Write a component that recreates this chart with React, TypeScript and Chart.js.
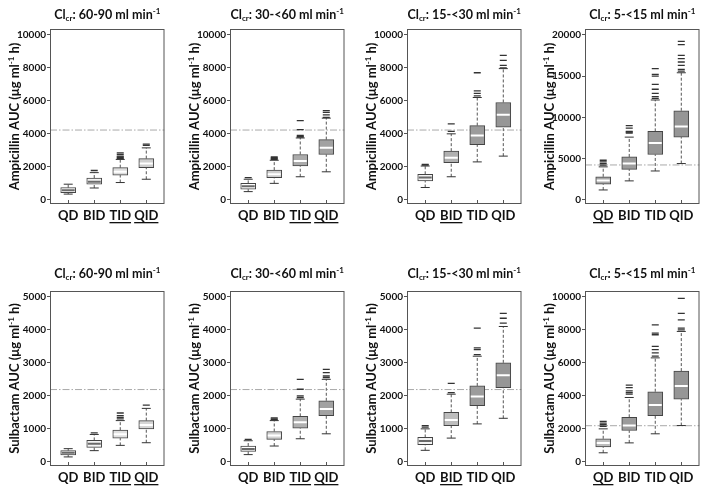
import React, { useEffect, useRef } from "react";
import Chart from "chart.js/auto";

// ---------------- data ----------------
const DOSES = ["QD", "BID", "TID", "QID"];
const CLCR_RANGES = ["60-90", "30-<60", "15-<30", "5-<15"];
const DRUGS = ["Ampicillin", "Sulbactam"];

// each row: [lower whisker, Q1, median, Q3, upper whisker] for QD, BID, TID, QID
const AMP_60_90 = [[350, 430, 590, 740, 950], [720, 950, 1100, 1320, 1650], [1050, 1500, 1700, 1950, 2450], [1250, 1950, 2200, 2500, 3150]];
const AMP_60_90_OUT = [[], [1780], [2500, 2550, 2600, 2650, 2750, 2850], [3300, 3380]];

const AMP_30_60 = [[500, 650, 820, 1000, 1250], [1000, 1350, 1550, 1800, 2400], [1400, 2050, 2350, 2750, 3750], [1700, 2750, 3150, 3650, 4950]];
const AMP_30_60_OUT = [[1350], [2450, 2500, 2550, 2600], [3800, 3850, 3900, 4250, 4800], [5000, 5150, 5300, 5400]];

const AMP_15_30 = [[750, 1150, 1350, 1550, 2050], [1400, 2250, 2550, 2950, 4000], [2300, 3350, 3900, 4500, 6200], [2650, 4400, 5150, 5900, 7950]];
const AMP_15_30_OUT = [[2100, 2150], [4150, 4600], [6300, 6450, 6600, 7700], [8000, 8150, 8450, 8750]];

const AMP_5_15 = [[1200, 1900, 2350, 2800, 4000], [2300, 3700, 4400, 5200, 7600], [3500, 5500, 6900, 8300, 12100], [4400, 7600, 8900, 10800, 15400]];
const AMP_5_15_OUT = [[4200, 4400, 4600, 4800], [8100, 8200, 8300, 8700, 9000], [12300, 12500, 12900, 13400, 14000, 15000, 15200, 15900], [15600, 15800, 16300, 16700, 17100, 17500, 18800, 19200]];

const SUL_60_90 = [[150, 210, 280, 340, 400], [340, 440, 550, 650, 830], [500, 720, 840, 960, 1250], [580, 1000, 1120, 1250, 1620]];
const SUL_60_90_OUT = [[], [880], [1300, 1350, 1400, 1480], [1720]];

const SUL_30_60 = [[220, 320, 390, 480, 640], [480, 680, 800, 920, 1250], [700, 1020, 1200, 1380, 1900], [850, 1400, 1600, 1850, 2500]];
const SUL_30_60_OUT = [[680], [1280, 1300, 1330], [1950, 2000, 2200, 2500], [2550, 2600, 2700, 2800]];

const SUL_15_30 = [[350, 520, 630, 740, 1000], [720, 1100, 1270, 1500, 2050], [1150, 1700, 1980, 2300, 3200], [1320, 2250, 2620, 3000, 4100]];
const SUL_15_30_OUT = [[1050, 1100], [2100, 2380], [3250, 3400, 3450, 4050], [4200, 4350, 4500]];

const SUL_5_15 = [[550, 900, 1150, 1400, 2000], [1150, 1900, 2200, 2700, 3900], [1700, 2800, 3450, 4250, 6300], [2200, 3800, 4600, 5500, 7900]];
const SUL_5_15_OUT = [[2150, 2250, 2350, 2450], [4100, 4200, 4300, 4500, 4650], [6400, 6600, 6800, 7000, 7700, 7800, 8300], [8000, 8100, 8600, 9000, 9900]];

const AMP_TICKS = [0, 2000, 4000, 6000, 8000, 10000];
const AMP_TICKS_SEVERE = [0, 5000, 10000, 15000, 20000];
const SUL_TICKS = [0, 1000, 2000, 3000, 4000, 5000];
const SUL_TICKS_SEVERE = [0, 2000, 4000, 6000, 8000, 10000];

const AMP_TARGET = 4230;
const SUL_TARGET = 2190;

// indices of underlined (recommended) regimens per renal-function group
const RECOMMENDED = [[2, 3], [2, 3], [1], [0]];

// ---------------- styles ----------------
const FONT = "Lato, 'Open Sans', 'DejaVu Sans', sans-serif";
const BOX_FILLS = [
  ["#ffffff", "#f3f3f3", "#dcdcdc", "#cfcfcf"],
  ["#ffffff", "#cfcfcf", "#ababab", "#a2a2a2"],
  ["#f3f3f3", "#b0b0b0", "#9c9c9c", "#969696"],
  ["#a8a8a8", "#9c9c9c", "#969696", "#969696"],
  ["#ffffff", "#f5f5f5", "#e0e0e0", "#d6d6d6"],
  ["#ffffff", "#d2d2d2", "#b0b0b0", "#a2a2a2"],
  ["#f3f3f3", "#bdbdbd", "#9c9c9c", "#969696"],
  ["#bdbdbd", "#9c9c9c", "#969696", "#969696"],
];
const COL_LEFT = [50, 230, 407, 585];
const PLOT_W = 122;
const PLOT_H = 175;
const ROWS = [
  { y0: 0, h: 245, top: 29, titleY: 15 },
  { y0: 250, h: 236, top: 291, titleY: 274 },
];
const Y_AXIS_W = 50;
const X_MIN = 0.3;
const X_MAX = 4.7;

type PanelDef = {
  col: number;
  row: number;
  stats: number[][];
  outliers: number[][];
  ticks: number[];
  target: number;
  fills: string[];
};

const PANELS: PanelDef[] = [
  { col: 0, row: 0, stats: AMP_60_90, outliers: AMP_60_90_OUT, ticks: AMP_TICKS, target: AMP_TARGET, fills: BOX_FILLS[0] },
  { col: 1, row: 0, stats: AMP_30_60, outliers: AMP_30_60_OUT, ticks: AMP_TICKS, target: AMP_TARGET, fills: BOX_FILLS[1] },
  { col: 2, row: 0, stats: AMP_15_30, outliers: AMP_15_30_OUT, ticks: AMP_TICKS, target: AMP_TARGET, fills: BOX_FILLS[2] },
  { col: 3, row: 0, stats: AMP_5_15, outliers: AMP_5_15_OUT, ticks: AMP_TICKS_SEVERE, target: AMP_TARGET, fills: BOX_FILLS[3] },
  { col: 0, row: 1, stats: SUL_60_90, outliers: SUL_60_90_OUT, ticks: SUL_TICKS, target: SUL_TARGET, fills: BOX_FILLS[4] },
  { col: 1, row: 1, stats: SUL_30_60, outliers: SUL_30_60_OUT, ticks: SUL_TICKS, target: SUL_TARGET, fills: BOX_FILLS[5] },
  { col: 2, row: 1, stats: SUL_15_30, outliers: SUL_15_30_OUT, ticks: SUL_TICKS, target: SUL_TARGET, fills: BOX_FILLS[6] },
  { col: 3, row: 1, stats: SUL_5_15, outliers: SUL_5_15_OUT, ticks: SUL_TICKS_SEVERE, target: SUL_TARGET, fills: BOX_FILLS[7] },
];

type Part = { t: string; s: number; dy?: number };

function drawParts(ctx: CanvasRenderingContext2D, parts: Part[], cx: number, cy: number) {
  let total = 0;
  const widths = parts.map((p) => {
    ctx.font = `bold ${p.s}px ${FONT}`;
    const w = ctx.measureText(p.t).width;
    total += w;
    return w;
  });
  let x = cx - total / 2;
  ctx.textBaseline = "middle";
  ctx.textAlign = "left";
  parts.forEach((p, i) => {
    ctx.font = `bold ${p.s}px ${FONT}`;
    ctx.fillText(p.t, x, cy + (p.dy || 0));
    x += widths[i];
  });
}

function isLight(c: string) {
  const v = parseInt(c.slice(1, 3), 16);
  return v > 0xe8;
}

function buildConfig(def: PanelDef): any {
  const row = ROWS[def.row];
  const xAxisH = row.h - (row.top - row.y0) - PLOT_H;
  const topTick = def.ticks[def.ticks.length - 1];
  const drug = DRUGS[def.row];
  const range = CLCR_RANGES[def.col];
  const underlined = RECOMMENDED[def.col];

  const whiskers: any[] = [];
  const caps: any[] = [];
  const medians: any[] = [];
  const medianColors: string[] = [];
  const outs: any[] = [];
  def.stats.forEach((s, i) => {
    const x = i + 1;
    whiskers.push({ x, y: s[0] }, { x, y: s[1] }, { x, y: null }, { x, y: s[3] }, { x, y: s[4] }, { x, y: null });
    caps.push({ x, y: s[0] }, { x, y: s[4] });
    medians.push({ x, y: s[2] });
    medianColors.push(isLight(def.fills[i]) ? "#6a6a6a" : "#ffffff");
    def.outliers[i].forEach((v) => outs.push({ x, y: v }));
  });

  const decor = {
    id: "decor",
    afterDraw(chart: any) {
      const ctx: CanvasRenderingContext2D = chart.ctx;
      const a = chart.chartArea;
      const xs = chart.scales.x;
      ctx.save();
      // frame
      ctx.strokeStyle = "#555";
      ctx.lineWidth = 1;
      ctx.strokeRect(a.left + 0.5, a.top + 0.5, a.right - a.left - 1, a.bottom - a.top - 1);
      // inner x tick marks
      ctx.beginPath();
      DOSES.forEach((_, i) => {
        const px = Math.round(xs.getPixelForValue(i + 1)) + 0.5;
        ctx.moveTo(px, a.bottom);
        ctx.lineTo(px, a.bottom - 4);
      });
      ctx.stroke();
      // underline recommended regimens
      ctx.fillStyle = "#111";
      ctx.font = `bold 13px ${FONT}`;
      underlined.forEach((i) => {
        const px = xs.getPixelForValue(i + 1);
        const w = ctx.measureText(DOSES[i]).width;
        ctx.fillRect(px - w / 2, a.bottom + 18, w, 1.3);
      });
      // panel title
      drawParts(
        ctx,
        [
          { t: "Cl", s: 12.5 },
          { t: "cr", s: 8, dy: 3 },
          { t: ": " + range + " ml min", s: 12.5 },
          { t: "-1", s: 8, dy: -4 },
        ],
        (a.left + a.right) / 2,
        row.titleY - row.y0
      );
      // y title
      ctx.translate(a.left - 35, (a.top + a.bottom) / 2);
      ctx.rotate(-Math.PI / 2);
      drawParts(
        ctx,
        [
          { t: drug + " AUC (μg ml", s: 13 },
          { t: "-1", s: 8, dy: -4 },
          { t: " h)", s: 13 },
        ],
        0,
        0
      );
      ctx.restore();
    },
  };

  return {
    type: "bar",
    plugins: [decor],
    data: {
      datasets: [
        {
          type: "line",
          data: [{ x: X_MIN, y: def.target }, { x: X_MAX, y: def.target }],
          borderColor: "#a9a9a9",
          borderWidth: 1,
          borderDash: [7, 2, 1.5, 2],
          pointRadius: 0,
          order: 6,
        },
        {
          type: "line",
          data: whiskers,
          borderColor: "#555",
          borderWidth: 1,
          borderDash: [3, 2],
          pointRadius: 0,
          spanGaps: false,
          order: 5,
        },
        {
          type: "bar",
          data: def.stats.map((s, i) => ({ x: i + 1, y: [s[1], s[3]] })),
          backgroundColor: def.fills,
          borderColor: "#444",
          borderWidth: 1,
          borderSkipped: false,
          barThickness: 15,
          order: 4,
        },
        {
          type: "scatter",
          data: caps,
          pointStyle: "line",
          pointRadius: 4.5,
          pointBorderColor: "#333",
          pointBorderWidth: 1,
          order: 3,
        },
        {
          type: "scatter",
          data: medians,
          pointStyle: "line",
          pointRadius: 6.5,
          pointBorderColor: medianColors,
          pointBorderWidth: 2,
          order: 2,
        },
        {
          type: "scatter",
          data: outs,
          pointStyle: "line",
          pointRadius: 3.5,
          pointBorderColor: "#333",
          pointBorderWidth: 1.3,
          order: 1,
        },
      ],
    },
    options: {
      responsive: false,
      animation: false,
      events: [],
      layout: { padding: { left: 0, right: 1, top: row.top - row.y0, bottom: 0 } },
      plugins: { legend: { display: false }, tooltip: { enabled: false }, title: { display: false } },
      scales: {
        x: {
          type: "linear",
          min: X_MIN,
          max: X_MAX,
          offset: false,
          afterBuildTicks: (scale: any) => {
            scale.ticks = DOSES.map((_, i) => ({ value: i + 1 }));
          },
          afterFit: (scale: any) => {
            scale.height = xAxisH;
          },
          grid: { display: true, drawOnChartArea: false, drawTicks: false, offset: false, color: "rgba(0,0,0,0)" },
          border: { display: false },
          ticks: {
            autoSkip: false,
            maxRotation: 0,
            padding: 4,
            color: "#111",
            font: { family: FONT, size: 13, weight: "bold" },
            callback: (v: number) => DOSES[Math.round(v) - 1] ?? "",
          },
        },
        y: {
          type: "linear",
          min: -0.025 * topTick,
          max: 1.035 * topTick,
          afterBuildTicks: (scale: any) => {
            scale.ticks = def.ticks.map((v) => ({ value: v }));
          },
          afterFit: (scale: any) => {
            scale.width = Y_AXIS_W;
          },
          grid: { display: true, drawOnChartArea: false, drawTicks: true, tickLength: 3, color: "#555" },
          border: { display: false },
          ticks: {
            padding: 1,
            color: "#111",
            font: { family: FONT, size: 10, weight: "bold" },
            callback: (v: number) => String(v),
          },
        },
      },
    },
  };
}

function Panel({ def }: { def: PanelDef }) {
  const ref = useRef<HTMLCanvasElement>(null);
  const row = ROWS[def.row];
  const left = COL_LEFT[def.col] - Y_AXIS_W;
  const width = Y_AXIS_W + PLOT_W + 1;
  useEffect(() => {
    const chart = new Chart(ref.current as HTMLCanvasElement, buildConfig(def));
    return () => chart.destroy();
  }, [def]);
  return (
    <canvas
      ref={ref}
      width={width}
      height={row.h}
      style={{ position: "absolute", left, top: row.y0, width, height: row.h }}
    />
  );
}

export default function App() {
  return (
    <div style={{ position: "absolute", left: 0, top: 0, width: 708, height: 486, overflow: "hidden", background: "#fff" }}>
      {PANELS.map((p, i) => (
        <Panel key={i} def={p} />
      ))}
    </div>
  );
}
